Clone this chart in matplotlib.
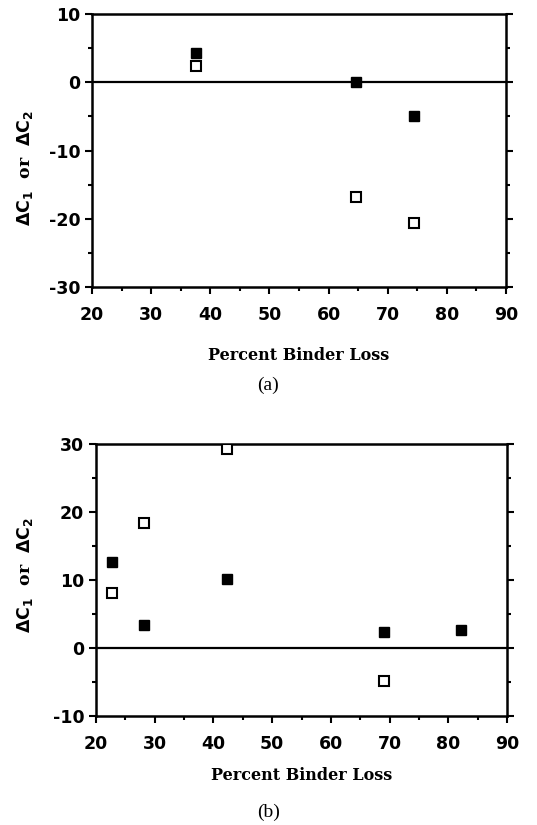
import matplotlib
matplotlib.use("Agg")
import matplotlib.pyplot as plt
from matplotlib.ticker import MultipleLocator

plt.rcParams["axes.unicode_minus"] = False

# panel (a)
a_x_filled = [37.6, 64.6, 74.5]
a_y_filled = [4.3, 0.0, -5.0]
a_x_open = [37.6, 64.6, 74.5]
a_y_open = [2.4, -16.8, -20.6]

# panel (b)
b_x_filled = [22.7, 28.1, 42.3, 69.1, 82.2]
b_y_filled = [12.7, 3.4, 10.1, 2.3, 2.6]
b_x_open = [22.7, 28.1, 42.3, 69.1]
b_y_open = [8.1, 18.4, 29.3, -4.9]

ylab = r"$\mathbf{\Delta C_1}$  or  $\mathbf{\Delta C_2}$"

fig = plt.figure(figsize=(5.37, 8.25), dpi=100)


def style(ax, ylim, label_y):
    ax.set_xlim(20, 90)
    ax.set_ylim(*ylim)
    ax.xaxis.set_major_locator(MultipleLocator(10))
    ax.xaxis.set_minor_locator(MultipleLocator(5))
    ax.yaxis.set_major_locator(MultipleLocator(10))
    ax.yaxis.set_minor_locator(MultipleLocator(5))
    ax.tick_params(which="both", direction="out", width=1.5, right=True, top=False)
    ax.tick_params(which="major", length=5, labelsize=12.5)
    ax.tick_params(axis="x", which="major", pad=9)
    ax.tick_params(which="minor", length=3)
    for lab in ax.get_xticklabels() + ax.get_yticklabels():
        lab.set_fontweight("bold")
        lab.set_family("DejaVu Sans")
    for s in ax.spines.values():
        s.set_linewidth(1.8)
    ax.axhline(0, color="black", lw=1.6)
    ax.set_xlabel("Percent Binder Loss", fontsize=11.5, fontweight="bold",
                  family="DejaVu Serif", labelpad=label_y)
    ax.set_ylabel(ylab, fontsize=12.5, fontweight="bold", family="DejaVu Serif")


ax1 = fig.add_axes([0.1713, 0.6521, 0.771, 0.3309])
ax1.plot(a_x_filled, a_y_filled, "s", color="black", ms=7, zorder=3)
ax1.plot(a_x_open, a_y_open, "s", mfc="white", mec="black", mew=1.5, ms=7, zorder=3)
style(ax1, (-30, 10), 16)
ax1.yaxis.set_label_coords(-0.138, 0.436)

ax2 = fig.add_axes([0.1788, 0.1325, 0.7654, 0.329])
ax2.plot(b_x_filled, b_y_filled, "s", color="black", ms=7, zorder=3)
ax2.plot(b_x_open, b_y_open, "s", mfc="white", mec="black", mew=1.5, ms=7, zorder=3)
style(ax2, (-10, 30), 10)
ax2.yaxis.set_label_coords(-0.148, 0.518)

fig.text(0.5, 1 - 385 / 825, "(a)", ha="center", va="center", fontsize=14,
         family="Liberation Serif")
fig.text(0.5, 1 - 812 / 825, "(b)", ha="center", va="center", fontsize=14,
         family="Liberation Serif")

fig.savefig("out.png", dpi=100)
